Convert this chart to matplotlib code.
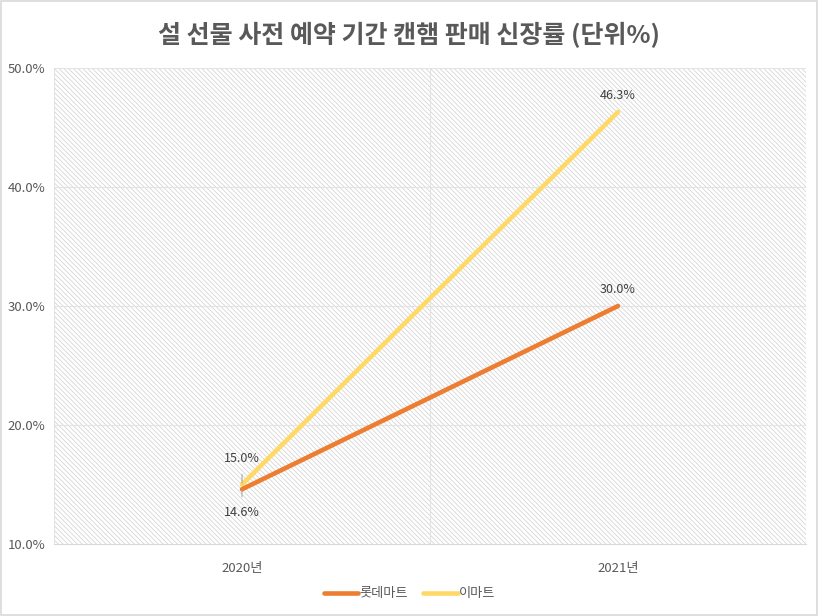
import matplotlib.pyplot as plt
from matplotlib.patches import Rectangle

plt.rcParams['font.family'] = ['Noto Sans CJK KR', 'DejaVu Sans']
plt.rcParams['hatch.linewidth'] = 0.5
plt.rcParams['hatch.color'] = '#cfcfcf'

years = ['2020년', '2021년']
lotte = [14.6, 30.0]
emart = [15.0, 46.3]
yticks = [10, 20, 30, 40, 50]

grey = '#595959'
orange = '#ED7D31'
yellow = '#FFD966'

fig = plt.figure(figsize=(8.19, 6.16), dpi=100)
ax = fig.add_axes([54 / 819, 72 / 616, 752 / 819, 476 / 616])

ax.set_xlim(-0.5, 1.5)
ax.set_ylim(10, 50)
ax.patch.set_facecolor('white')
ax.patch.set_hatch('\\\\\\\\\\\\\\')
ax.patch.set_edgecolor('#cfcfcf')

for s in ax.spines.values():
    s.set_visible(False)
ax.spines['bottom'].set_visible(True)
ax.spines['bottom'].set_color('#d9d9d9')

ax.set_yticks(yticks)
ax.set_yticklabels([f'{v:.1f}%' for v in yticks], color=grey, fontsize=9.5)
ax.set_xticks(range(len(years)))
ax.set_xticklabels(years, color=grey, fontsize=9.5)
ax.tick_params(length=0, pad=13)
ax.tick_params(axis='y', pad=6)
for v in yticks[1:]:
    ax.axhline(v, color='#e3e3e3', lw=0.8, zorder=1)
for xv in [-0.5, 0.5, 1.5]:
    ax.axvline(xv, color='#e3e3e3', lw=0.8, zorder=1)

x = list(range(len(years)))
ax.plot(x, lotte, color=orange, lw=3.3, solid_capstyle='round', label='롯데마트', zorder=4)
ax.plot(x, emart, color=yellow, lw=3.3, solid_capstyle='round', label='이마트', zorder=3)

lab = dict(color='#404040', fontsize=9, ha='center', va='center', textcoords='offset points')
lead = dict(arrowstyle='-', color='#a6a6a6', lw=0.8, shrinkA=5, shrinkB=1)
ax.annotate(f'{emart[0]:.1f}%', (0, emart[0]), xytext=(0, 19), arrowprops=lead, **lab)
ax.annotate(f'{lotte[0]:.1f}%', (0, lotte[0]), xytext=(0, -17), arrowprops=lead, **lab)
ax.annotate(f'{emart[1]:.1f}%', (1, emart[1]), xytext=(0, 12), **lab)
ax.annotate(f'{lotte[1]:.1f}%', (1, lotte[1]), xytext=(0, 12), **lab)

leg = fig.legend(loc='center', bbox_to_anchor=(0.5, 22 / 616), ncol=2, frameon=False,
                 fontsize=9.5, handlelength=2.6, handletextpad=0.1, columnspacing=1.2)
for t in leg.get_texts():
    t.set_color(grey)

fig.text(0.5, 1 - 35 / 616, '설 선물 사전 예약 기간 캔햄 판매 신장률 (단위%)', ha='center', va='center',
         fontsize=18, fontweight='bold', color=grey)

fig.patches.append(Rectangle((0.001, 0.001), 0.997, 0.997, transform=fig.transFigure,
                             fill=False, edgecolor='#d9d9d9', lw=1.2))

fig.savefig('out.png', dpi=100)
